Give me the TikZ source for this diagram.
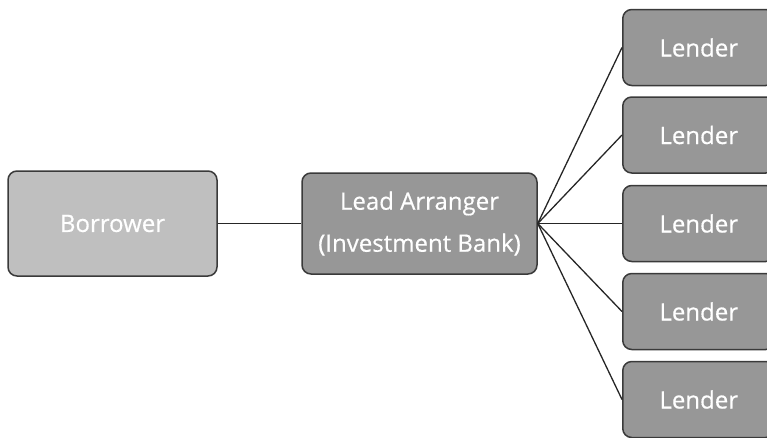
\documentclass[tikz,border=0pt]{standalone}
\usepackage{fontspec}
\setmainfont{Open Sans}
\newfontfamily\boxfont{Open Sans}[FakeBold=0.5]
\definecolor{lightbox}{HTML}{BFBFBF}
\definecolor{darkbox}{HTML}{979797}
\definecolor{edge}{HTML}{3A3A3A}
\begin{document}
\begin{tikzpicture}[x=1pt,y=-1pt,
  box/.style={draw=edge,line width=1.5pt,rounded corners=9pt,text=white,
    font=\boxfont\fontsize{24}{42}\selectfont,align=center,inner sep=0pt},
  conn/.style={draw=black!85,line width=1.3pt}]
\useasboundingbox (0,0) rectangle (767,437);
\node[box,fill=lightbox,minimum width=209pt,minimum height=105pt] (bor) at (112.5,223.5) {Borrower};
\node[box,fill=darkbox,minimum width=235pt,minimum height=101pt] (lead) at (419.5,223.5) {Lead Arranger\\(Investment Bank)};
\foreach \i/\y in {1/47.5,2/135,3/223.5,4/311.5,5/399.5}{
  \node[box,fill=darkbox,minimum width=152pt,minimum height=76pt,anchor=west] (l\i) at (622,\y) {Lender};
}
\draw[conn] (bor.east) -- (lead.west);
\foreach \i in {1,...,5}{\draw[conn] (lead.east) -- (l\i.west);}
\end{tikzpicture}
\end{document}
